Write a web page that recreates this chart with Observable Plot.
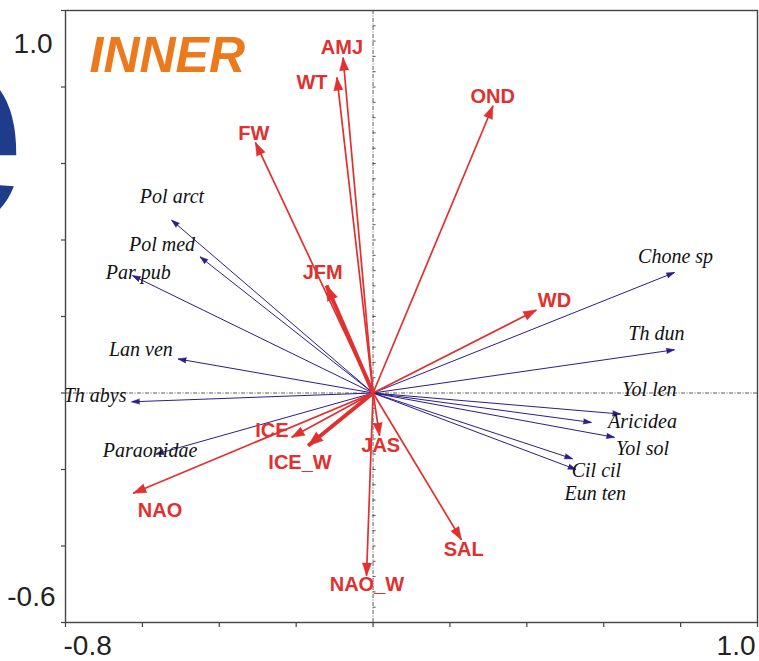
<!DOCTYPE html>
<html>
<head>
<meta charset="utf-8">
<script src="https://cdn.jsdelivr.net/npm/d3@7"></script>
<script src="https://cdn.jsdelivr.net/npm/@observablehq/plot@0.6"></script>
<style>
  html, body { margin: 0; padding: 0; background: #fff; }
  #chart { width: 759px; height: 661px; overflow: hidden; }
</style>
</head>
<body>
<div id="chart"></div>
<script>
// Environmental variables (CCA biplot scores, axis 1 / axis 2)
const envNames = ["AMJ", "WT", "FW", "OND", "JFM", "WD", "ICE", "ICE_W", "JAS", "NAO", "NAO_W", "SAL"];
const envAxis1 = [-0.078, -0.094, -0.306, 0.312, -0.121, 0.425, -0.212, -0.169, 0.017, -0.624, -0.017, 0.230];
const envAxis2 = [0.877, 0.825, 0.655, 0.751, 0.281, 0.217, -0.116, -0.138, -0.112, -0.262, -0.478, -0.384];
// Variables retained by forward selection (drawn heavier)
const envSelected = ["JFM", "ICE_W"];

// Species scores
const spNames = ["Pol arct", "Pol med", "Par pub", "Lan ven", "Th abys", "Paraonidae",
                 "Chone sp", "Th dun", "Yol len", "Aricidea", "Yol sol", "Cil cil", "Eun ten"];
const spAxis1 = [-0.524, -0.450, -0.626, -0.507, -0.628, -0.565, 0.784, 0.784, 0.644, 0.568, 0.628, 0.519, 0.528];
const spAxis2 = [0.452, 0.356, 0.307, 0.089, -0.023, -0.160, 0.315, 0.113, -0.055, -0.077, -0.116, -0.172, -0.200];

// Label placement (axis units), set by hand to avoid overlaps
const envLabelX = [-0.081, -0.159, -0.310, 0.311, -0.131, 0.472, -0.263, -0.190, 0.020, -0.554, -0.016, 0.236];
const envLabelY = [0.903, 0.811, 0.678, 0.774, 0.315, 0.241, -0.099, -0.182, -0.138, -0.308, -0.501, -0.410];
const spLabelX = [-0.523, -0.549, -0.611, -0.604, -0.723, -0.580, 0.787, 0.737, 0.719, 0.701, 0.701, 0.581, 0.578];
const spLabelY = [0.513, 0.388, 0.315, 0.113, -0.007, -0.151, 0.357, 0.155, 0.009, -0.075, -0.146, -0.203, -0.263];

// Axes
const xDomain = [-0.8, 1.0];
const yDomain = [-0.6, 1.0];
const xTicks = [-0.8, -0.6, -0.4, -0.2, 0, 0.2, 0.4, 0.6, 0.8, 1.0];
const yTicks = [-0.6, -0.4, -0.2, 0, 0.2, 0.4, 0.6, 0.8, 1.0];
const xTickLabels = ["-0.8", "1.0"];
const yTickLabels = ["1.0", "-0.6"];
const panelTitle = "INNER";

const W = 759, H = 661;
const margin = {left: 65, right: 2, top: 10, bottom: 39};
// pixels per axis unit, used to orient the arrow heads on screen
const kx = (W - margin.left - margin.right) / (xDomain[1] - xDomain[0]);
const ky = (H - margin.top - margin.bottom) / (yDomain[1] - yDomain[0]);
const heading = (x, y) => Math.atan2(x * kx, y * ky) * 180 / Math.PI;

const env = envNames.map((name, i) => ({
  name, x: envAxis1[i], y: envAxis2[i],
  lx: envLabelX[i], ly: envLabelY[i],
  selected: envSelected.includes(name),
  angle: heading(envAxis1[i], envAxis2[i])
}));
const envMain = env.filter(d => !d.selected);
const envBold = env.filter(d => d.selected);
const species = spNames.map((name, i) => ({
  name, x: spAxis1[i], y: spAxis2[i],
  lx: spLabelX[i], ly: spLabelY[i],
  angle: heading(spAxis1[i], spAxis2[i])
}));

const RED = "#e0302f";
const BLUE = "#2e1d86";
const minorY = d3.range(-0.6, 1.0001, 0.04);

const chart = Plot.plot({
  width: W,
  height: H,
  marginLeft: margin.left,
  marginRight: margin.right,
  marginTop: margin.top,
  marginBottom: margin.bottom,
  x: {domain: xDomain, axis: null},
  y: {domain: yDomain, axis: null},
  style: {fontFamily: "'Liberation Sans', Arial, sans-serif", background: "#fff", overflow: "visible"},
  marks: [
    // partial panel letter at the far left
    Plot.text(["e"], {
      frameAnchor: "top-left", dx: 26 - margin.left, dy: 216,
      textAnchor: "end", lineAnchor: "bottom",
      fontSize: 300, fontWeight: "bold", fill: "#1f3c8b"
    }),
    // zero lines
    Plot.ruleX([0], {stroke: "#333", strokeWidth: 0.8, strokeDasharray: "4,1.5,1,1.5"}),
    Plot.ruleY([0], {stroke: "#333", strokeWidth: 0.8, strokeDasharray: "4,1.5,1,1.5"}),
    Plot.ruleY(minorY, {y: d => d, x1: 0, x2: 0.008, stroke: "#333", strokeWidth: 0.8}),
    // species arrows
    Plot.link(species, {x1: 0, y1: 0, x2: "x", y2: "y", stroke: BLUE, strokeWidth: 1}),
    Plot.vector(species, {
      x: "x", y: "y", rotate: "angle", length: 8, r: 2.6, anchor: "end",
      shape: "spike", fill: BLUE, stroke: BLUE, strokeWidth: 0.6
    }),
    // environmental arrows
    Plot.link(envMain, {x1: 0, y1: 0, x2: "x", y2: "y", stroke: RED, strokeWidth: 1.7}),
    Plot.link(envBold, {x1: 0, y1: 0, x2: "x", y2: "y", stroke: RED, strokeWidth: 4}),
    Plot.vector(envMain, {
      x: "x", y: "y", rotate: "angle", length: 13, r: 4.6, anchor: "end",
      shape: "spike", fill: RED, stroke: RED, strokeWidth: 0.5
    }),
    Plot.vector(envBold, {
      x: "x", y: "y", rotate: "angle", length: 15, r: 5.5, anchor: "end",
      shape: "spike", fill: RED, stroke: RED, strokeWidth: 0.5
    }),
    // labels
    Plot.text(species, {
      x: "lx", y: "ly", text: "name", fill: "#111",
      fontFamily: "'Liberation Serif', 'Times New Roman', serif",
      fontStyle: "italic", fontSize: 20
    }),
    Plot.text(env, {
      x: "lx", y: "ly", text: "name", fill: RED,
      fontWeight: "bold", fontSize: 20
    }),
    Plot.text([panelTitle], {
      frameAnchor: "top-left", dx: 24, dy: 61, lineAnchor: "bottom", textAnchor: "start",
      fill: "#ec7a1c", fontWeight: "bold", fontStyle: "italic", fontSize: 50
    }),
    // frame and ticks
    Plot.frame({stroke: "#444", strokeWidth: 1.4}),
    Plot.axisX(xTicks, {tickSize: 5, tickFormat: () => "", label: null, stroke: "#444", strokeWidth: 1.2}),
    Plot.axisY(yTicks, {tickSize: 4, tickFormat: () => "", label: null, stroke: "#444", strokeWidth: 1.2}),
    // end tick labels
    Plot.text([xTickLabels[0]], {x: xDomain[0], y: yDomain[0], textAnchor: "start", lineAnchor: "bottom",
      dx: -2, dy: 32, fontSize: 28, fill: "#222"}),
    Plot.text([xTickLabels[1]], {x: xDomain[1], y: yDomain[0], textAnchor: "end", lineAnchor: "bottom",
      dx: -2, dy: 32, fontSize: 28, fill: "#222"}),
    Plot.text([yTickLabels[0]], {x: xDomain[0], y: yDomain[1], textAnchor: "end", lineAnchor: "bottom",
      dx: -13, dy: 42, fontSize: 28, fill: "#222"}),
    Plot.text([yTickLabels[1]], {x: xDomain[0], y: yDomain[0], textAnchor: "end", lineAnchor: "bottom",
      dx: -10, dy: -17, fontSize: 28, fill: "#222"})
  ]
});

document.getElementById("chart").appendChild(chart);
</script>
</body>
</html>
